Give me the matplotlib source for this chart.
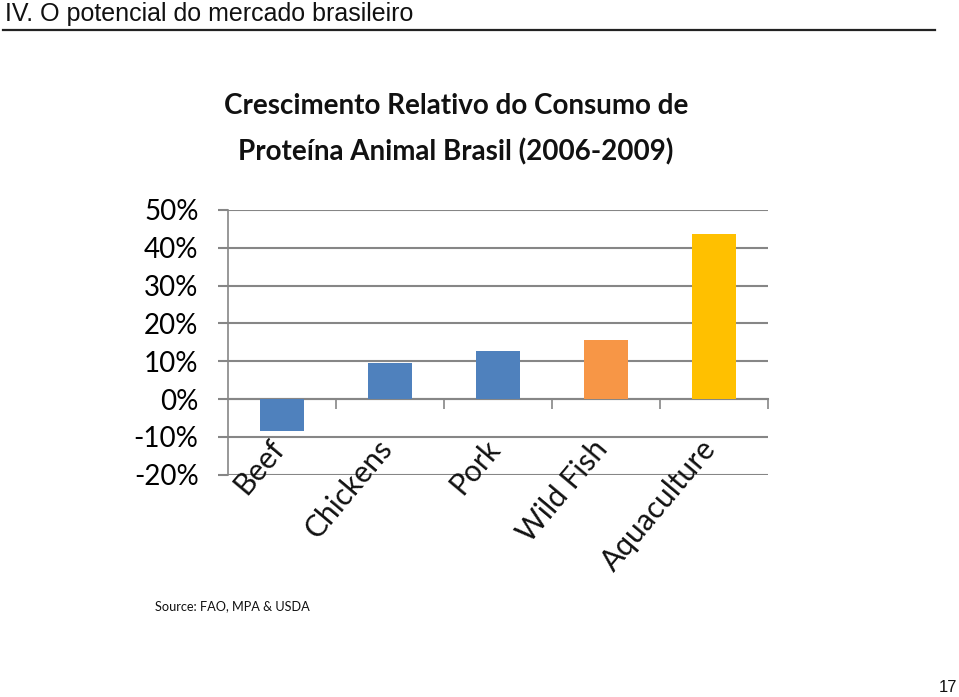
import matplotlib
matplotlib.use("Agg")
import matplotlib.pyplot as plt
from matplotlib.ticker import FixedLocator, FuncFormatter

categories = ["Beef", "Chickens", "Pork", "Wild Fish", "Aquaculture"]
growth = [-0.085, 0.095, 0.127, 0.157, 0.437]
bar_colors = ["#4F81BD", "#4F81BD", "#4F81BD", "#F79646", "#FFC000"]
y_ticks = [-0.2, -0.1, 0.0, 0.1, 0.2, 0.3, 0.4, 0.5]

W, H = 959, 697
fig = plt.figure(figsize=(W / 100, H / 100), dpi=100)
fig.patch.set_facecolor("white")

# page header
fig.text(5 / W, 1 - 14 / H, "IV. O potencial do mercado brasileiro",
         fontsize=18, family="Liberation Sans", color="#111111",
         ha="left", va="center")
fig.add_artist(plt.Line2D([3 / W, 935 / W], [1 - 30 / H, 1 - 30 / H],
                          color="#222222", lw=1.6, transform=fig.transFigure))

# chart title
fig.text(456 / W, 1 - 106 / H, "Crescimento Relativo do Consumo de",
         fontsize=20, fontweight="bold", family="Lato", color="#111111",
         ha="center", va="center")
fig.text(456 / W, 1 - 152 / H, "Proteína Animal Brasil (2006-2009)",
         fontsize=20, fontweight="bold", family="Lato", color="#111111",
         ha="center", va="center")

ax = fig.add_axes([228 / W, 1 - 474.6 / H, (768 - 228) / W, (474.6 - 210) / H])
x = list(range(len(categories)))
ax.bar(x, growth, width=0.4, color=bar_colors, zorder=3)

ax.set_xlim(-0.5, len(categories) - 0.5)
ax.set_ylim(-0.2, 0.5)
ax.yaxis.set_major_locator(FixedLocator(y_ticks))
ax.yaxis.set_major_formatter(FuncFormatter(lambda v, p: f"{v * 100:.0f}%"))
ax.grid(axis="y", color="#868686", lw=1.5, zorder=0)
ax.tick_params(axis="y", length=7.2, width=1.5, color="#868686", pad=14,
               labelsize=20)
for lab in ax.get_yticklabels():
    lab.set_family("Lato")

for s in ["top", "right"]:
    ax.spines[s].set_visible(False)
ax.spines["left"].set_color("#868686")
ax.spines["left"].set_linewidth(1.2)
ax.spines["bottom"].set_position(("data", 0))
ax.spines["bottom"].set_color("#868686")
ax.spines["bottom"].set_linewidth(1.5)
ax.set_xticks([i + 0.5 for i in x])
ax.set_xticklabels([])
ax.tick_params(axis="x", length=7, color="#868686", width=1.2)

# category labels sit inside the plot, below the -10% line
for i, name in enumerate(categories):
    ax.text(i - 0.13, -0.094, name, rotation=50, rotation_mode="anchor",
            ha="right", va="top", fontsize=21.5, family="Lato", color="#111111",
            zorder=4)

fig.text(155 / W, 1 - 606 / H, "Source: FAO, MPA & USDA", fontsize=9.2,
         family="Lato", color="#111111", ha="left", va="center")
fig.text(948 / W, 1 - 688 / H, "17", fontsize=12, family="Liberation Sans",
         color="#111111", ha="center", va="center")

fig.savefig("out.png", dpi=100)
